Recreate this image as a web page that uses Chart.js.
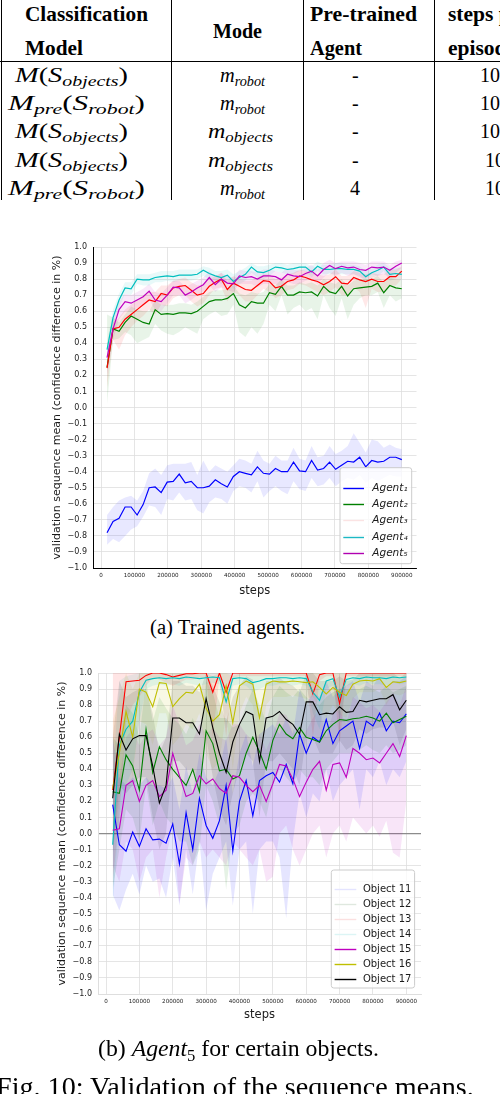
<!DOCTYPE html>
<html><head><meta charset="utf-8">
<title>Fig. 10</title>
<script src="https://cdn.jsdelivr.net/npm/chart.js@4.4.1/dist/chart.umd.min.js"></script>
<style>
html,body{margin:0;padding:0;background:#fff;}
body{width:500px;height:1094px;position:relative;overflow:hidden;font-family:"Liberation Serif","Times New Roman",serif;color:#000;}
.t{position:absolute;white-space:nowrap;line-height:1;top:0;left:0;}
.hd{font-weight:bold;font-size:21.5px;}
.mt{font-size:20px;}
.mt sub,.cap sub{font-size:0.7em;vertical-align:-0.28em;line-height:0;}
.rm{font-size:20px;}
.cap{font-size:20px;}
.vl{position:absolute;top:0;width:1px;background:#000;}
.hl{position:absolute;left:0;width:500px;height:1px;background:#000;}
canvas{position:absolute;left:0;}
</style></head>
<body>
<!-- table rules -->
<div class="vl" style="left:1px;height:200px"></div>
<div class="vl" style="left:171px;height:200px"></div>
<div class="vl" style="left:303px;height:200px"></div>
<div class="vl" style="left:434px;height:200px"></div>
<div class="hl" style="top:61px"></div>
<!-- header -->
<div class="t hd" data-x="25" data-bl="20.7" data-w="123">Classification</div>
<div class="t hd" data-x="25" data-bl="55" data-w="58">Model</div>
<div class="t hd" data-x="213" data-bl="38.3" data-w="49">Mode</div>
<div class="t hd" data-x="310" data-bl="20.7" data-w="107">Pre-trained</div>
<div class="t hd" data-x="310" data-bl="55" data-w="52">Agent</div>
<div class="t hd" data-x="448" data-bl="20.7">steps per</div>
<div class="t hd" data-x="448" data-bl="55">episode</div>
<!-- rows -->
<div class="t mt" data-x="15" data-bl="81.7" data-w="113"><i>M</i>(<i>S</i><sub><i>objects</i></sub>)</div>
<div class="t mt" data-x="220" data-bl="81.7" data-w="45"><i>m</i><sub><i>robot</i></sub></div>
<div class="t rm" data-x="352" data-bl="81.7">-</div>
<div class="t rm" data-x="480" data-bl="81.7">100</div>

<div class="t mt" data-x="8" data-bl="110" data-w="137"><i>M</i><sub><i>pre</i></sub>(<i>S</i><sub><i>robot</i></sub>)</div>
<div class="t mt" data-x="220" data-bl="110" data-w="45"><i>m</i><sub><i>robot</i></sub></div>
<div class="t rm" data-x="352" data-bl="110">-</div>
<div class="t rm" data-x="480" data-bl="110">100</div>

<div class="t mt" data-x="15" data-bl="138.3" data-w="113"><i>M</i>(<i>S</i><sub><i>objects</i></sub>)</div>
<div class="t mt" data-x="208" data-bl="138.3" data-w="65"><i>m</i><sub><i>objects</i></sub></div>
<div class="t rm" data-x="352" data-bl="138.3">-</div>
<div class="t rm" data-x="480" data-bl="138.3">100</div>

<div class="t mt" data-x="15" data-bl="166.7" data-w="113"><i>M</i>(<i>S</i><sub><i>objects</i></sub>)</div>
<div class="t mt" data-x="208" data-bl="166.7" data-w="65"><i>m</i><sub><i>objects</i></sub></div>
<div class="t rm" data-x="352" data-bl="166.7">-</div>
<div class="t rm" data-x="485" data-bl="166.7">100</div>

<div class="t mt" data-x="8" data-bl="195" data-w="137"><i>M</i><sub><i>pre</i></sub>(<i>S</i><sub><i>robot</i></sub>)</div>
<div class="t mt" data-x="220" data-bl="195" data-w="45"><i>m</i><sub><i>robot</i></sub></div>
<div class="t rm" data-x="350" data-bl="195">4</div>
<div class="t rm" data-x="485" data-bl="195">100</div>

<canvas id="c1" width="500" height="380" style="top:236px;width:500px;height:380px"></canvas>
<canvas id="c2" width="500" height="380" style="top:660px;width:500px;height:380px"></canvas>

<div class="t cap" data-x="150" data-bl="634" data-w="155" data-fit="size">(a) Trained agents.</div>
<div class="t cap" data-x="98" data-bl="1056" data-w="281" data-fit="size">(b) <i>Agent</i><sub>5</sub> for certain objects.</div>
<div class="t cap" data-x="-4" data-bl="1096" data-w="478" data-fit="size">Fig. 10: Validation of the sequence means.</div>

<script>
// ---------------- data: chart (a) ----------------
const steps1 = [18000, 36000, 54000, 72000, 90000, 108000, 126000, 144000, 162000, 180000, 198000, 216000, 234000, 252000, 270000, 288000, 306000, 324000, 342000, 360000, 378000, 396000, 414000, 432000, 450000, 468000, 486000, 504000, 522000, 540000, 558000, 576000, 594000, 612000, 630000, 648000, 666000, 684000, 702000, 720000, 738000, 756000, 774000, 792000, 810000, 828000, 846000, 864000, 882000, 900000];

const agentLabels = ['Agent\u2081', 'Agent\u2082', 'Agent\u2083', 'Agent\u2084', 'Agent\u2085'];

const agent1Mean = [-0.78, -0.71, -0.69, -0.62, -0.62, -0.67, -0.605, -0.50, -0.495, -0.53, -0.465, -0.46, -0.415, -0.47, -0.46, -0.50, -0.50, -0.49, -0.45, -0.475, -0.495, -0.43, -0.40, -0.41, -0.42, -0.37, -0.41, -0.415, -0.38, -0.40, -0.40, -0.34, -0.395, -0.40, -0.33, -0.39, -0.38, -0.34, -0.385, -0.36, -0.335, -0.34, -0.31, -0.37, -0.33, -0.34, -0.335, -0.31, -0.31, -0.325];
const agent1High = [-0.67, -0.62, -0.58, -0.56, -0.55, -0.58, -0.52, -0.41, -0.38, -0.42, -0.36, -0.35, -0.35, -0.35, -0.34, -0.42, -0.33, -0.40, -0.36, -0.38, -0.40, -0.36, -0.32, -0.33, -0.35, -0.27, -0.33, -0.35, -0.30, -0.33, -0.33, -0.25, -0.32, -0.33, -0.24, -0.31, -0.30, -0.24, -0.29, -0.27, -0.24, -0.16, -0.22, -0.28, -0.20, -0.21, -0.25, -0.23, -0.25, -0.26];
const agent1Low = [-0.855, -0.82, -0.84, -0.80, -0.76, -0.74, -0.68, -0.61, -0.62, -0.67, -0.57, -0.58, -0.53, -0.58, -0.57, -0.64, -0.66, -0.59, -0.56, -0.57, -0.60, -0.52, -0.49, -0.50, -0.53, -0.46, -0.56, -0.52, -0.49, -0.52, -0.54, -0.46, -0.51, -0.52, -0.44, -0.49, -0.48, -0.44, -0.49, -0.46, -0.44, -0.45, -0.42, -0.47, -0.44, -0.46, -0.44, -0.42, -0.43, -0.43];

const agent2Mean = [0.25, 0.49, 0.475, 0.53, 0.57, 0.55, 0.53, 0.52, 0.61, 0.58, 0.585, 0.58, 0.59, 0.59, 0.585, 0.60, 0.63, 0.66, 0.67, 0.67, 0.68, 0.71, 0.64, 0.62, 0.66, 0.65, 0.65, 0.715, 0.705, 0.755, 0.70, 0.70, 0.72, 0.715, 0.72, 0.695, 0.755, 0.72, 0.71, 0.755, 0.695, 0.74, 0.745, 0.75, 0.755, 0.775, 0.715, 0.76, 0.745, 0.74];
const agent2High = [0.58, 0.56, 0.53, 0.58, 0.63, 0.61, 0.60, 0.60, 0.67, 0.64, 0.64, 0.64, 0.65, 0.65, 0.64, 0.66, 0.69, 0.72, 0.73, 0.73, 0.74, 0.76, 0.71, 0.70, 0.72, 0.71, 0.72, 0.77, 0.76, 0.80, 0.76, 0.76, 0.78, 0.77, 0.78, 0.76, 0.80, 0.78, 0.77, 0.80, 0.76, 0.79, 0.80, 0.80, 0.80, 0.82, 0.78, 0.81, 0.80, 0.79];
const agent2Low = [0.02, 0.42, 0.43, 0.47, 0.45, 0.40, 0.42, 0.44, 0.52, 0.48, 0.46, 0.45, 0.47, 0.50, 0.48, 0.46, 0.55, 0.58, 0.60, 0.57, 0.58, 0.64, 0.47, 0.44, 0.50, 0.46, 0.52, 0.64, 0.60, 0.70, 0.58, 0.62, 0.64, 0.60, 0.62, 0.55, 0.70, 0.62, 0.57, 0.68, 0.55, 0.64, 0.68, 0.70, 0.70, 0.72, 0.62, 0.70, 0.66, 0.68];

const agent3Mean = [0.245, 0.49, 0.50, 0.55, 0.58, 0.61, 0.64, 0.67, 0.66, 0.71, 0.70, 0.745, 0.755, 0.76, 0.73, 0.70, 0.71, 0.755, 0.78, 0.80, 0.735, 0.775, 0.755, 0.735, 0.73, 0.76, 0.79, 0.785, 0.745, 0.755, 0.785, 0.795, 0.82, 0.81, 0.795, 0.785, 0.765, 0.785, 0.815, 0.775, 0.77, 0.81, 0.795, 0.785, 0.80, 0.785, 0.785, 0.815, 0.815, 0.85];
const agent3High = [0.33, 0.53, 0.56, 0.61, 0.64, 0.67, 0.70, 0.72, 0.72, 0.76, 0.76, 0.79, 0.80, 0.81, 0.78, 0.76, 0.77, 0.80, 0.82, 0.84, 0.79, 0.82, 0.80, 0.79, 0.79, 0.81, 0.83, 0.83, 0.80, 0.81, 0.83, 0.84, 0.86, 0.85, 0.84, 0.83, 0.82, 0.83, 0.86, 0.82, 0.82, 0.85, 0.84, 0.83, 0.84, 0.83, 0.83, 0.86, 0.86, 0.88];
const agent3Low = [0.12, 0.42, 0.36, 0.45, 0.50, 0.54, 0.57, 0.61, 0.58, 0.64, 0.63, 0.68, 0.70, 0.70, 0.66, 0.63, 0.65, 0.70, 0.74, 0.75, 0.66, 0.72, 0.70, 0.66, 0.66, 0.70, 0.74, 0.72, 0.68, 0.70, 0.73, 0.74, 0.77, 0.76, 0.74, 0.72, 0.70, 0.72, 0.75, 0.70, 0.70, 0.75, 0.72, 0.62, 0.74, 0.72, 0.72, 0.76, 0.76, 0.80];

const agent4Mean = [0.36, 0.56, 0.67, 0.745, 0.74, 0.80, 0.795, 0.795, 0.81, 0.815, 0.82, 0.815, 0.825, 0.825, 0.825, 0.83, 0.855, 0.835, 0.82, 0.81, 0.825, 0.785, 0.81, 0.83, 0.875, 0.845, 0.84, 0.855, 0.875, 0.87, 0.86, 0.865, 0.875, 0.875, 0.845, 0.88, 0.86, 0.86, 0.865, 0.865, 0.86, 0.86, 0.85, 0.815, 0.84, 0.855, 0.875, 0.83, 0.835, 0.83];
const agent4High = [0.40, 0.61, 0.71, 0.78, 0.78, 0.83, 0.83, 0.83, 0.84, 0.85, 0.85, 0.85, 0.86, 0.86, 0.86, 0.86, 0.88, 0.87, 0.85, 0.85, 0.86, 0.83, 0.85, 0.87, 0.90, 0.88, 0.88, 0.89, 0.90, 0.90, 0.89, 0.90, 0.90, 0.90, 0.88, 0.91, 0.89, 0.89, 0.90, 0.90, 0.89, 0.89, 0.88, 0.85, 0.87, 0.89, 0.90, 0.87, 0.87, 0.87];
const agent4Low = [0.32, 0.51, 0.62, 0.71, 0.70, 0.77, 0.76, 0.76, 0.78, 0.78, 0.79, 0.78, 0.79, 0.79, 0.79, 0.80, 0.82, 0.80, 0.79, 0.77, 0.79, 0.74, 0.77, 0.79, 0.84, 0.81, 0.80, 0.82, 0.85, 0.84, 0.83, 0.83, 0.85, 0.85, 0.81, 0.85, 0.83, 0.83, 0.83, 0.83, 0.83, 0.83, 0.82, 0.78, 0.81, 0.82, 0.85, 0.79, 0.80, 0.79];

const agent5Mean = [0.31, 0.49, 0.61, 0.66, 0.65, 0.67, 0.69, 0.725, 0.67, 0.66, 0.70, 0.75, 0.745, 0.70, 0.72, 0.745, 0.765, 0.81, 0.765, 0.80, 0.775, 0.77, 0.82, 0.81, 0.815, 0.80, 0.82, 0.82, 0.815, 0.795, 0.83, 0.82, 0.815, 0.835, 0.85, 0.82, 0.86, 0.885, 0.865, 0.88, 0.87, 0.875, 0.86, 0.855, 0.875, 0.87, 0.875, 0.855, 0.88, 0.90];
const agent5High = [0.37, 0.55, 0.66, 0.71, 0.70, 0.72, 0.74, 0.77, 0.72, 0.71, 0.75, 0.79, 0.79, 0.75, 0.77, 0.79, 0.81, 0.85, 0.81, 0.84, 0.82, 0.81, 0.86, 0.85, 0.85, 0.84, 0.86, 0.86, 0.85, 0.84, 0.87, 0.86, 0.85, 0.87, 0.89, 0.86, 0.90, 0.92, 0.90, 0.91, 0.91, 0.91, 0.90, 0.89, 0.91, 0.91, 0.91, 0.89, 0.91, 0.92];
const agent5Low = [0.20, 0.42, 0.55, 0.60, 0.60, 0.62, 0.64, 0.67, 0.61, 0.60, 0.65, 0.70, 0.70, 0.65, 0.67, 0.70, 0.72, 0.76, 0.72, 0.75, 0.73, 0.72, 0.77, 0.77, 0.77, 0.75, 0.77, 0.77, 0.77, 0.74, 0.78, 0.77, 0.77, 0.79, 0.80, 0.77, 0.81, 0.84, 0.82, 0.84, 0.82, 0.83, 0.81, 0.80, 0.83, 0.82, 0.83, 0.81, 0.84, 0.87];

// ---------------- data: chart (b) ----------------
const steps2 = [20000, 40000, 60000, 80000, 100000, 120000, 140000, 160000, 180000, 200000, 220000, 240000, 260000, 280000, 300000, 320000, 340000, 360000, 380000, 400000, 420000, 440000, 460000, 480000, 500000, 520000, 540000, 560000, 580000, 600000, 620000, 640000, 660000, 680000, 700000, 720000, 740000, 760000, 780000, 800000, 820000, 840000, 860000, 880000, 900000];

const objectLabels = ['Object 11', 'Object 12', 'Object 13', 'Object 14', 'Object 15', 'Object 16', 'Object 17'];

const obj11Mean = [0.18, -0.07, -0.11, 0.01, -0.08, 0.03, -0.04, -0.035, -0.06, 0.06, -0.19, 0.13, -0.10, 0.22, 0.05, -0.03, 0.08, 0.30, -0.11, 0.20, 0.33, 0.11, 0.33, 0.36, 0.38, 0.32, 0.43, 0.31, 0.62, 0.50, 0.60, 0.57, 0.71, 0.56, 0.64, 0.67, 0.70, 0.53, 0.70, 0.67, 0.75, 0.64, 0.70, 0.69, 0.745];
const obj11Low = [-0.38, -0.48, -0.35, -0.25, -0.38, -0.20, -0.30, -0.28, -0.40, -0.15, -0.45, -0.10, -0.38, -0.05, -0.48, -0.25, -0.15, -0.05, -0.45, -0.10, -0.05, -0.50, -0.10, -0.05, -0.05, -0.15, -0.53, -0.05, 0.25, 0.10, 0.25, 0.20, 0.40, 0.20, 0.30, 0.35, 0.40, 0.15, 0.40, 0.35, 0.45, 0.30, 0.40, 0.35, 0.45];
const obj11High = [0.60, 0.35, 0.30, 0.35, 0.30, 0.35, 0.30, 0.30, 0.28, 0.35, 0.15, 0.42, 0.25, 0.50, 0.35, 0.30, 0.40, 0.60, 0.25, 0.50, 0.62, 0.42, 0.62, 0.65, 0.68, 0.62, 0.72, 0.62, 0.90, 0.80, 0.88, 0.85, 0.95, 0.85, 0.90, 0.92, 0.95, 0.82, 0.95, 0.92, 0.98, 0.90, 0.95, 0.95, 0.98];

const obj12Mean = [0.26, 0.25, 0.49, 0.42, 0.27, 0.65, 0.38, 0.54, 0.46, 0.40, 0.35, 0.30, 0.40, 0.26, 0.64, 0.56, 0.39, 0.40, 0.34, 0.36, 0.50, 0.60, 0.51, 0.40, 0.58, 0.68, 0.62, 0.59, 0.66, 0.60, 0.585, 0.57, 0.64, 0.68, 0.71, 0.705, 0.715, 0.72, 0.73, 0.72, 0.70, 0.75, 0.69, 0.71, 0.73];
const obj12Low = [-0.35, -0.10, 0.15, 0.10, -0.05, 0.30, 0.05, 0.20, 0.10, 0.05, -0.05, -0.05, -0.20, -0.10, 0.30, 0.20, 0.05, -0.35, 0.00, 0.05, 0.20, 0.25, 0.20, 0.10, 0.30, 0.40, 0.35, 0.30, 0.40, 0.35, 0.35, 0.30, 0.40, 0.45, 0.50, 0.50, 0.50, 0.52, 0.55, 0.52, 0.50, 0.55, 0.50, 0.52, 0.55];
const obj12High = [0.60, 0.55, 0.80, 0.75, 0.60, 0.95, 0.70, 0.85, 0.78, 0.72, 0.68, 0.62, 0.72, 0.60, 0.95, 0.88, 0.72, 0.72, 0.66, 0.68, 0.80, 0.90, 0.80, 0.70, 0.85, 0.92, 0.88, 0.85, 0.90, 0.85, 0.82, 0.80, 0.85, 0.88, 0.90, 0.90, 0.90, 0.90, 0.92, 0.90, 0.88, 0.92, 0.88, 0.90, 0.92];

const obj13Mean = [0.27, 0.60, 0.945, 0.95, 0.955, 0.985, 1.0, 1.0, 0.99, 0.975, 0.985, 0.995, 0.995, 1.0, 1.0, 0.88, 1.0, 0.88, 1.0, 1.0, 1.0, 1.0, 1.0, 1.0, 1.0, 1.0, 1.0, 1.0, 1.0, 1.0, 0.87, 0.99, 1.0, 1.0, 0.81, 1.0, 1.0, 1.0, 1.0, 1.0, 1.0, 1.0, 1.0, 1.0, 1.0];
const obj13Low = [-0.30, 0.10, 0.70, 0.80, 0.85, 0.92, 0.97, 0.96, 0.94, 0.92, 0.94, 0.96, 0.96, 0.97, 0.97, 0.60, 0.97, 0.60, 0.97, 0.98, 0.98, 0.98, 0.98, 0.98, 0.98, 0.98, 0.98, 0.98, 0.98, 0.98, 0.60, 0.95, 0.98, 0.98, 0.55, 0.98, 0.98, 0.98, 0.98, 0.98, 0.98, 0.98, 0.98, 0.98, 0.98];
const obj13High = [1.0, 1.0, 1.0, 1.0, 1.0, 1.0, 1.0, 1.0, 1.0, 1.0, 1.0, 1.0, 1.0, 1.0, 1.0, 1.0, 1.0, 1.0, 1.0, 1.0, 1.0, 1.0, 1.0, 1.0, 1.0, 1.0, 1.0, 1.0, 1.0, 1.0, 1.0, 1.0, 1.0, 1.0, 1.0, 1.0, 1.0, 1.0, 1.0, 1.0, 1.0, 1.0, 1.0, 1.0, 1.0];

const obj14Mean = [-0.07, 0.55, 0.65, 0.70, 0.88, 0.955, 0.965, 0.97, 0.965, 0.97, 0.965, 0.975, 0.97, 0.965, 0.97, 0.975, 0.97, 0.82, 0.965, 0.97, 0.965, 0.94, 0.95, 0.965, 0.965, 0.97, 0.97, 0.965, 0.97, 0.965, 0.88, 0.83, 0.95, 0.965, 0.85, 0.96, 0.97, 0.965, 0.975, 0.97, 0.97, 0.965, 0.975, 0.97, 0.975];
const obj14Low = [-0.45, 0.10, 0.30, 0.40, 0.70, 0.90, 0.92, 0.93, 0.92, 0.93, 0.92, 0.94, 0.93, 0.92, 0.93, 0.94, 0.93, 0.65, 0.92, 0.93, 0.92, 0.88, 0.90, 0.92, 0.92, 0.93, 0.93, 0.92, 0.93, 0.92, 0.75, 0.65, 0.90, 0.92, 0.70, 0.92, 0.93, 0.92, 0.94, 0.93, 0.93, 0.92, 0.94, 0.93, 0.94];
const obj14High = [0.35, 0.95, 0.98, 0.99, 1.0, 1.0, 1.0, 1.0, 1.0, 1.0, 1.0, 1.0, 1.0, 1.0, 1.0, 1.0, 1.0, 1.0, 1.0, 1.0, 1.0, 1.0, 1.0, 1.0, 1.0, 1.0, 1.0, 1.0, 1.0, 1.0, 1.0, 1.0, 1.0, 1.0, 1.0, 1.0, 1.0, 1.0, 1.0, 1.0, 1.0, 1.0, 1.0, 1.0, 1.0];

const obj15Mean = [0.02, 0.03, 0.30, 0.33, 0.20, 0.30, 0.33, 0.23, 0.27, 0.50, 0.36, 0.23, 0.25, 0.36, 0.31, 0.34, 0.28, 0.25, 0.36, 0.35, 0.30, 0.26, 0.30, 0.20, 0.31, 0.43, 0.42, 0.34, 0.23, 0.32, 0.40, 0.45, 0.27, 0.43, 0.44, 0.35, 0.53, 0.50, 0.46, 0.47, 0.44, 0.50, 0.56, 0.48, 0.61];
const obj15Low = [-0.20, -0.30, -0.05, -0.10, -0.30, -0.15, -0.10, -0.40, -0.15, 0.05, -0.44, -0.15, -0.20, -0.05, -0.15, -0.10, -0.15, -0.20, -0.05, -0.10, -0.15, -0.20, -0.10, -0.30, -0.27, 0.00, 0.05, -0.10, -0.20, -0.10, 0.00, 0.05, -0.15, 0.00, 0.05, -0.05, 0.10, 0.05, 0.00, 0.05, -0.02, 0.08, -0.12, -0.15, 0.20];
const obj15High = [0.30, 0.35, 0.60, 0.65, 0.55, 0.62, 0.65, 0.55, 0.60, 0.80, 0.68, 0.55, 0.58, 0.68, 0.62, 0.66, 0.60, 0.58, 0.68, 0.68, 0.62, 0.58, 0.62, 0.52, 0.62, 0.75, 0.74, 0.66, 0.55, 0.64, 0.72, 0.78, 0.60, 0.75, 0.77, 0.68, 0.85, 0.82, 0.78, 0.80, 0.76, 0.82, 0.88, 0.80, 0.92];

const obj16Mean = [0.28, 0.50, 0.76, 0.60, 0.90, 0.88, 0.79, 0.94, 0.935, 0.79, 0.84, 0.88, 0.875, 0.93, 0.78, 0.70, 0.74, 0.92, 0.69, 0.92, 0.95, 0.93, 0.72, 0.93, 0.95, 0.945, 0.945, 0.95, 0.945, 0.94, 0.945, 0.91, 0.87, 0.91, 0.88, 0.86, 0.93, 0.95, 0.955, 0.95, 0.965, 0.91, 0.945, 0.94, 0.95];
const obj16Low = [-0.10, 0.20, 0.50, 0.35, 0.70, 0.68, 0.55, 0.75, 0.75, 0.55, 0.60, 0.68, 0.65, 0.75, 0.50, 0.40, 0.45, 0.75, 0.40, 0.75, 0.85, 0.80, 0.45, 0.80, 0.85, 0.85, 0.85, 0.86, 0.85, 0.84, 0.85, 0.78, 0.72, 0.80, 0.74, 0.72, 0.84, 0.88, 0.88, 0.88, 0.90, 0.80, 0.87, 0.86, 0.88];
const obj16High = [0.70, 0.85, 1.0, 0.90, 1.0, 1.0, 1.0, 1.0, 1.0, 1.0, 1.0, 1.0, 1.0, 1.0, 1.0, 0.98, 1.0, 1.0, 0.98, 1.0, 1.0, 1.0, 1.0, 1.0, 1.0, 1.0, 1.0, 1.0, 1.0, 1.0, 1.0, 1.0, 1.0, 1.0, 1.0, 1.0, 1.0, 1.0, 1.0, 1.0, 1.0, 1.0, 1.0, 1.0, 1.0];

const obj17Mean = [0.22, 0.62, 0.52, 0.59, 0.61, 0.61, 0.42, 0.19, 0.30, 0.72, 0.72, 0.69, 0.69, 0.62, 0.84, 0.66, 0.50, 0.38, 0.57, 0.68, 0.76, 0.74, 0.45, 0.72, 0.73, 0.76, 0.71, 0.68, 0.62, 0.82, 0.82, 0.74, 0.75, 0.745, 0.79, 0.755, 0.76, 0.83, 0.82, 0.83, 0.84, 0.84, 0.865, 0.77, 0.83];
const obj17Low = [-0.15, 0.30, 0.25, 0.30, 0.35, 0.35, 0.10, -0.10, 0.00, 0.45, 0.45, 0.40, 0.40, 0.30, 0.60, 0.35, 0.15, 0.05, 0.25, 0.40, 0.50, 0.45, 0.10, 0.45, 0.45, 0.50, 0.45, 0.40, 0.30, 0.60, 0.60, 0.50, 0.50, 0.50, 0.58, 0.52, 0.55, 0.65, 0.62, 0.65, 0.66, 0.66, 0.70, 0.55, 0.65];
const obj17High = [0.60, 0.95, 0.85, 0.88, 0.90, 0.90, 0.75, 0.50, 0.60, 0.95, 0.95, 0.92, 0.92, 0.88, 1.0, 0.92, 0.82, 0.70, 0.85, 0.92, 0.98, 0.96, 0.75, 0.95, 0.95, 0.97, 0.94, 0.92, 0.88, 1.0, 1.0, 0.95, 0.95, 0.95, 0.98, 0.95, 0.96, 1.0, 1.0, 1.0, 1.0, 1.0, 1.0, 0.97, 1.0];

// ---------------- tick labels ----------------
const xTicks = [0, 100000, 200000, 300000, 400000, 500000, 600000, 700000, 800000, 900000];
const yTicks = [-1.0, -0.9, -0.8, -0.7, -0.6, -0.5, -0.4, -0.3, -0.2, -0.1, 0.0, 0.1, 0.2, 0.3, 0.4, 0.5, 0.6, 0.7, 0.8, 0.9, 1.0];
const yTitle = 'validation sequence mean (confidence difference in %)';
const xTitle = 'steps';

// ---------------- styles ----------------
function rgba(hex, a) {
  const n = parseInt(hex.slice(1), 16);
  return 'rgba(' + ((n >> 16) & 255) + ',' + ((n >> 8) & 255) + ',' + (n & 255) + ',' + a + ')';
}
function fmtY(v) {
  const r = Math.round(v * 10) / 10;
  if (Math.abs(r) < 1e-9) return '0.0';
  return (r < 0 ? '\u2212' : '') + Math.abs(r).toFixed(1);
}

function boxLegend(o) {
  return {
    id: 'boxLegend',
    afterDatasetsDraw(chart) {
      const ctx = chart.ctx, a = chart.chartArea;
      const x0 = a.right - o.right - o.width, y0 = a.bottom - o.bottom - o.height;
      const w = o.width, h = o.height, r = 2.5;
      ctx.save();
      ctx.beginPath();
      ctx.moveTo(x0 + r, y0);
      ctx.lineTo(x0 + w - r, y0); ctx.arcTo(x0 + w, y0, x0 + w, y0 + r, r);
      ctx.lineTo(x0 + w, y0 + h - r); ctx.arcTo(x0 + w, y0 + h, x0 + w - r, y0 + h, r);
      ctx.lineTo(x0 + r, y0 + h); ctx.arcTo(x0, y0 + h, x0, y0 + h - r, r);
      ctx.lineTo(x0, y0 + r); ctx.arcTo(x0, y0, x0 + r, y0, r);
      ctx.closePath();
      ctx.fillStyle = 'rgba(255,255,255,0.8)';
      ctx.fill();
      ctx.strokeStyle = '#cccccc';
      ctx.lineWidth = 1;
      ctx.stroke();
      o.labels.forEach((lab, i) => {
        const y = Math.round(y0 + o.firstRow + i * o.rowGap) + 0.5;
        ctx.beginPath();
        ctx.strokeStyle = o.colors[i];
        ctx.lineWidth = 1.4;
        ctx.moveTo(x0 + o.lineX0, y); ctx.lineTo(x0 + o.lineX1, y);
        ctx.stroke();
        ctx.fillStyle = '#1a1a1a';
        ctx.font = o.font;
        ctx.textBaseline = 'middle';
        ctx.textAlign = 'left';
        ctx.fillText(lab, x0 + o.textX, y);
      });
      ctx.restore();
    }
  };
}

function makeChart(id, c) {
  const datasets = [];
  const n = c.series.length;
  c.series.forEach((s) => {
    const lo = datasets.length;
    datasets.push({ data: c.x.map((x, j) => ({ x, y: s.low[j] })), borderWidth: 0, borderColor: 'rgba(0,0,0,0)', pointRadius: 0, fill: false, order: 100, tension: 0 });
    datasets.push({ data: c.x.map((x, j) => ({ x, y: s.high[j] })), borderWidth: 0, borderColor: 'rgba(0,0,0,0)', pointRadius: 0, fill: { target: lo }, backgroundColor: rgba(s.color, c.alpha), order: 100, tension: 0 });
  });
  c.series.forEach((s, i) => {
    datasets.push({ data: c.x.map((x, j) => ({ x, y: s.mean[j] })), borderColor: s.color, borderWidth: c.lw, pointRadius: 0, fill: false, order: n - i, tension: 0 });
  });
  return new Chart(document.getElementById(id), {
    type: 'line',
    data: { datasets },
    options: {
      responsive: false, animation: false, devicePixelRatio: 1, events: [],
      layout: { padding: c.padding },
      plugins: { legend: { display: false }, tooltip: { enabled: false } },
      scales: {
        x: {
          type: 'linear', min: c.xmin, max: c.xmax,
          afterBuildTicks: (s) => { s.ticks = xTicks.map(v => ({ value: v })); },
          afterFit: (s) => { s.height = c.xAxisH; },
          ticks: { callback: (v) => String(v), font: { size: 5.6, family: 'DejaVu Sans' }, color: '#222', padding: c.xTickPad, maxRotation: 0, autoSkip: false },
          grid: { color: '#dedede', lineWidth: 0.8, drawTicks: false },
          border: { display: true, color: c.spineX, width: 1 },
          title: { display: true, text: xTitle, font: { size: 11.5, family: 'DejaVu Sans' }, color: '#1a1a1a', padding: { top: 4, bottom: 4 } }
        },
        y: {
          type: 'linear', min: -1, max: 1,
          afterBuildTicks: (s) => { s.ticks = yTicks.map(v => ({ value: v })); },
          afterFit: (s) => { s.width = c.yAxisW; },
          ticks: { callback: (v) => fmtY(v), font: { size: 8, family: 'DejaVu Sans' }, color: '#222', padding: c.yTickPad, autoSkip: false },
          grid: {
            color: (ctx) => (c.zeroLine && ctx.tick && Math.abs(ctx.tick.value) < 1e-9) ? '#8c8c8c' : '#dedede',
            lineWidth: (ctx) => (c.zeroLine && ctx.tick && Math.abs(ctx.tick.value) < 1e-9) ? 1.2 : 0.8,
            drawTicks: false
          },
          border: { display: true, color: c.spineY, width: 1 },
          title: { display: true, text: yTitle, font: { size: 11, family: 'DejaVu Sans' }, color: '#1a1a1a', padding: { top: 4, bottom: 4 } }
        }
      }
    },
    plugins: [boxLegend(c.legend)]
  });
}

makeChart('c1', {
  x: steps1, xmin: -24000, xmax: 944000, lw: 1.2, alpha: 0.09,
  padding: { left: 46.9, top: 11, right: 83.5, bottom: 14 },
  yAxisW: 46.1, xAxisH: 34, xTickPad: 4, yTickPad: 6,
  spineX: '#000000', spineY: '#000000', zeroLine: false,
  series: [
    { mean: agent1Mean, low: agent1Low, high: agent1High, color: '#0000ff' },
    { mean: agent2Mean, low: agent2Low, high: agent2High, color: '#008000' },
    { mean: agent3Mean, low: agent3Low, high: agent3High, color: '#ff0000' },
    { mean: agent4Mean, low: agent4Low, high: agent4High, color: '#00bfbf' },
    { mean: agent5Mean, low: agent5Low, high: agent5High, color: '#bf00bf' }
  ],
  legend: {
    labels: agentLabels, colors: ['#0000ff', '#008000', '#fbe3e3', '#1cb8c4', '#b000b0'],
    width: 71.7, height: 96, right: 4.8, bottom: 4.3, firstRow: 20.3, rowGap: 16.2,
    lineX0: 3.3, lineX1: 24, textX: 32.3, font: 'italic 10.5px "DejaVu Sans"'
  }
});

makeChart('c2', {
  x: steps2, xmin: -24000, xmax: 944000, lw: 1.1, alpha: 0.1,
  padding: { left: 51.9, top: 13, right: 79, bottom: 14 },
  yAxisW: 46.1, xAxisH: 32, xTickPad: 4, yTickPad: 6,
  spineX: '#dedede', spineY: '#dedede', zeroLine: true,
  series: [
    { mean: obj11Mean, low: obj11Low, high: obj11High, color: '#0000ff' },
    { mean: obj12Mean, low: obj12Low, high: obj12High, color: '#008000' },
    { mean: obj13Mean, low: obj13Low, high: obj13High, color: '#ff0000' },
    { mean: obj14Mean, low: obj14Low, high: obj14High, color: '#00bfbf' },
    { mean: obj15Mean, low: obj15Low, high: obj15High, color: '#bf00bf' },
    { mean: obj16Mean, low: obj16Low, high: obj16High, color: '#bfbf00' },
    { mean: obj17Mean, low: obj17Low, high: obj17High, color: '#000000' }
  ],
  legend: {
    labels: objectLabels, colors: ['#e4e4ff', '#dfe8df', '#fbe0e0', '#dcf5f5', '#bf00bf', '#bfbf00', '#000000'],
    width: 83.3, height: 118, right: 6.4, bottom: 6, firstRow: 19.3, rowGap: 15,
    lineX0: 3.3, lineX1: 25, textX: 31.6, font: '10px "DejaVu Sans"'
  }
});

// ---------------- text placement ----------------
function placeTexts() {
  document.querySelectorAll('.t').forEach(el => {
    const x = parseFloat(el.dataset.x), bl = parseFloat(el.dataset.bl);
    el.style.left = x + 'px';
    el.style.top = '0px';
    if (el.dataset.w) {
      const w = parseFloat(el.dataset.w);
      const cur = el.getBoundingClientRect().width;
      if (el.dataset.fit === 'size') {
        const fs = parseFloat(getComputedStyle(el).fontSize);
        el.style.fontSize = (fs * w / cur) + 'px';
      } else {
        el.style.transformOrigin = '0 0';
        el.style.transform = 'scaleX(' + (w / cur) + ')';
      }
    }
    const mk = document.createElement('span');
    mk.style.cssText = 'display:inline-block;width:0;height:0;vertical-align:baseline;';
    el.appendChild(mk);
    const y = mk.getBoundingClientRect().top;
    el.style.top = (bl - y) + 'px';
  });
}
placeTexts();
</script>
</body></html>
